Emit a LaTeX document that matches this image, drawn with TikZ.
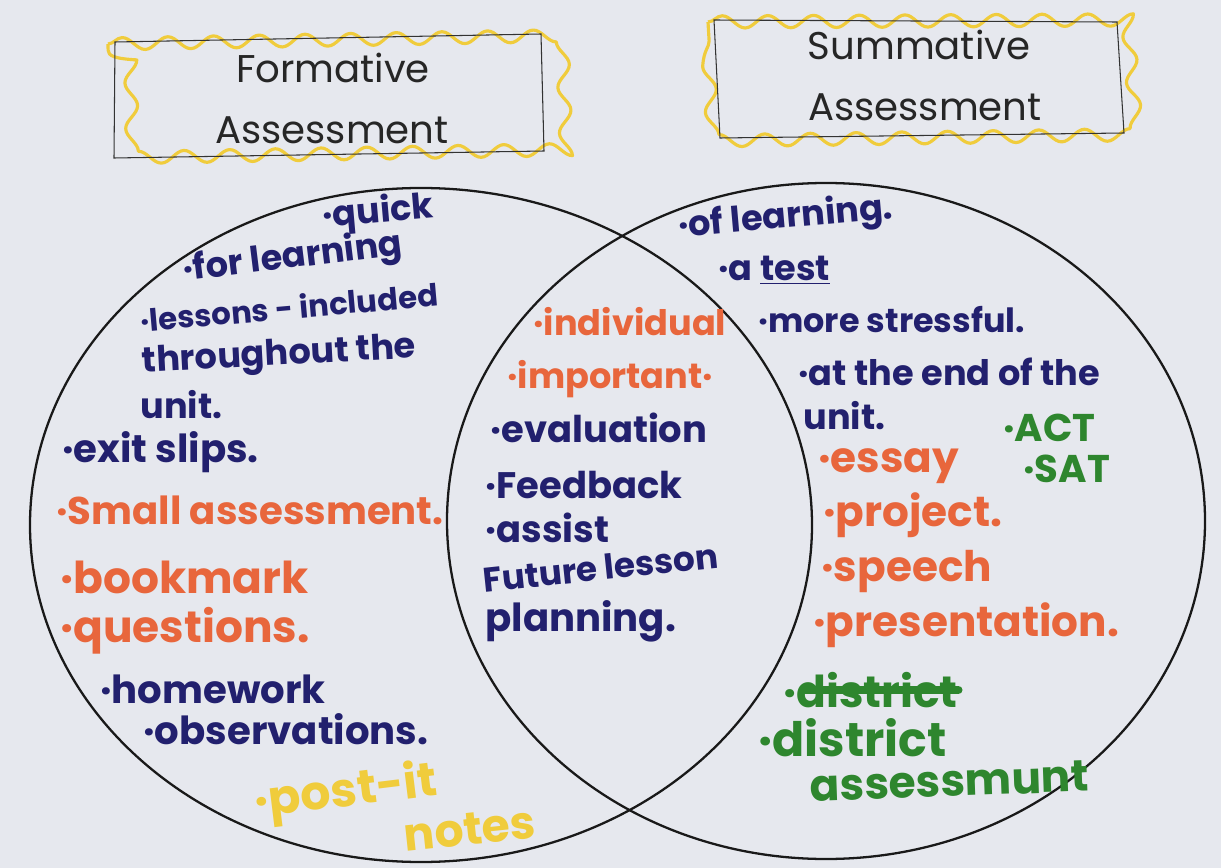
\documentclass[tikz,border=0pt]{standalone}
\usepackage{fontspec}
\setmainfont{Poppins}
\usetikzlibrary{decorations.pathmorphing}
\definecolor{paper}{HTML}{E6E8EE}
\definecolor{ink}{HTML}{22206E}
\definecolor{marker}{HTML}{E8663C}
\definecolor{leaf}{HTML}{2E862E}
\definecolor{sun}{HTML}{F0CC3C}

\begin{document}
\begin{tikzpicture}[x=0.02cm, y=-0.02cm,
  note/.style={anchor=west, inner sep=0pt},
  blu/.style={note, text=ink, font=\bfseries\fontsize{#1}{#1}\selectfont},
  blu/.default=20,
  org/.style={note, text=marker, font=\bfseries\fontsize{#1}{#1}\selectfont},
  org/.default=24,
  grn/.style={note, text=leaf, font=\bfseries\fontsize{#1}{#1}\selectfont},
  grn/.default=25,
  ylw/.style={note, text=sun, font=\bfseries\fontsize{#1}{#1}\selectfont},
  ylw/.default=26,
  head/.style={text=black!85, font=\fontsize{22}{22}\selectfont},
  frame/.style={draw=black!80, line width=0.6pt},
  wavy/.style={draw=sun, line width=1.8pt, line join=round,
               decorate, decoration={snake, amplitude=3.5pt, segment length=26pt}},
  ring/.style={draw=black!90, line width=1.3pt}]

\useasboundingbox[fill=paper] (0,0) rectangle (1221,868);

% title boxes
\draw[wavy] (108,44) -- (545,36) -- (549,152) -- (110,160) -- cycle;
\draw[frame] (115,42) -- (541,34) -- (544,151) -- (114,158) -- cycle;
\node[head] (formA) at (333,68)  {Formative};
\node[head] (formB) at (332,130) {Assessment};

\draw[wavy] (708,22) -- (1117,20) -- (1126,134) -- (715,140) -- cycle;
\draw[frame] (714,20) -- (1117,22) -- (1124,133) -- (720,138) -- cycle;
\node[head] (sumA) at (919,45)  {Summative};
\node[head] (sumB) at (925,107) {Assessment};

% the two circles
\draw[ring] (421,525) ellipse [x radius=391, y radius=337];
\draw[ring] (826,521) ellipse [x radius=379, y radius=338];

% formative side
\node[blu, rotate=5] (quick) at (322,218) {·quick};
\node[blu, rotate=7] (forlrn) at (183,272) {·for learning};
\node[blu=17.5, rotate=5] (lesson) at (140,320) {·lessons - included};
\node[blu, rotate=3] (thru) at (142,364) {throughout the};
\node[blu] (unitA) at (140,405) {unit.};
\node[blu=22] (exit) at (62,452) {·exit slips.};
\node[org=22] (small) at (56,510) {·Small assessment.};
\node[org=25] (bookm) at (60,577) {·bookmark};
\node[org=25] (quest) at (60,631) {·questions.};
\node[blu=22] (homew) at (100,689) {·homework};
\node[blu=22] (obs) at (143,729) {·observations.};
\node[ylw=27, rotate=7] (postit) at (255,805) {·post-it};
\node[ylw, rotate=6] (notes) at (404,836) {notes};

% both
\node[org=20] (indiv) at (533,322) {·individual};
\node[org=20] (import) at (507,379) {·important·};
\node[blu=21] (eval) at (490,428) {·evaluation};
\node[blu=21] (feedb) at (485,485) {·Feedback};
\node[blu=21] (assist) at (485,528) {·assist};
\node[blu=19.5, rotate=6] (future) at (483,580) {Future lesson};
\node[blu=22] (plan) at (485,621) {planning.};

% summative side
\node[blu, rotate=5] (oflrn) at (678,228) {·of learning.};
\node[blu] (atest) at (718,270) {·a \underline{test}};
\node[blu=19] (stress) at (758,320) {·more stressful.};
\node[blu] (atend) at (798,372) {·at the end of the};
\node[blu] (unitB) at (803,416) {unit.};
\node[grn=22] (act) at (1003,428) {·ACT};
\node[grn=22] (sat) at (1023,469) {·SAT};
\node[org] (essay) at (818,466) {·essay};
\node[org] (proj) at (823,515) {·project.};
\node[org] (speech) at (821,572) {·speech};
\node[org] (pres) at (813,625) {·presentation.};
\node[grn] (distA) at (783,690) {·district};
\draw[leaf, line width=5pt, line cap=round] ([xshift=12pt]distA.west) -- (distA.east);
\node[grn=27] (distB) at (758,738) {·district};
\node[grn=25, rotate=2] (asmt) at (810,786) {assessmunt};

\end{tikzpicture}
\end{document}
